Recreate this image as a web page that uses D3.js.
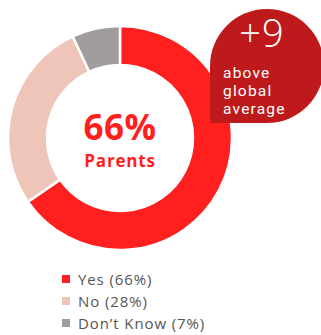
<!DOCTYPE html>
<html>
<head>
<meta charset="utf-8">
<script src="https://cdn.jsdelivr.net/npm/d3@7"></script>
<style>
  html, body { margin: 0; padding: 0; background: #fff; }
  svg { display: block; }
  text { font-family: "Open Sans", "Noto Sans", sans-serif; }
  text.note { font-family: Roboto, "Open Sans", sans-serif; }
</style>
</head>
<body>
<svg id="chart" width="321" height="335"></svg>
<script>
// Survey answers for parents
const categories = ["Yes", "No", "Don’t Know"];
const values = [66, 28, 7];
const colors = ["#ff1f1f", "#efc5b9", "#a19d9c"];
const headline = "66%";
const subject = "Parents";
const deltaLabel = "+9";
const deltaNote = ["above", "global", "average"];

const svg = d3.select("#chart");
const cx = 120, cy = 138;
const outerR = 112, innerR = 73;

const pie = d3.pie().sort(null).value(d => d);
const arc = d3.arc().innerRadius(innerR).outerRadius(outerR);

const g = svg.append("g").attr("transform", `translate(${cx},${cy})`);
g.selectAll("path.slice")
  .data(pie(values))
  .join("path")
  .attr("class", "slice")
  .attr("d", arc)
  .attr("fill", (d, i) => colors[i])
  .attr("stroke", "#fff")
  .attr("stroke-width", 2.5);

g.append("text")
  .attr("text-anchor", "middle")
  .attr("y", 2)
  .attr("fill", "#ff1f1f")
  .attr("font-size", 35)
  .attr("font-weight", 700)
  .attr("letter-spacing", 0.5)
  .text(headline);

g.append("text")
  .attr("text-anchor", "middle")
  .attr("y", 29)
  .attr("fill", "#ff1f1f")
  .attr("font-size", 17)
  .attr("font-weight", 700)
  .attr("letter-spacing", 0.8)
  .text(subject);

// Callout badge: a circle with a squared bottom-left corner
const bx = 267, by = 66, br = 57;
const badge = d3.path();
badge.moveTo(bx - br, by);
badge.arc(bx, by, br, Math.PI, 2.5 * Math.PI, false);
badge.lineTo(bx - br, by + br);
badge.closePath();
svg.append("path").attr("d", badge.toString()).attr("fill", "#bf1a1b");

svg.append("text")
  .attr("x", 262).attr("y", 47)
  .attr("text-anchor", "middle")
  .attr("fill", "#fff")
  .attr("font-size", 38)
  .attr("font-weight", 300)
  .attr("letter-spacing", 1)
  .text(deltaLabel);

// Three-line note set as one text block
svg.append("text")
  .attr("class", "note")
  .attr("x", 223)
  .attr("y", 77.5)
  .attr("fill", "#fff")
  .attr("font-size", 15.5)
  .attr("font-weight", 400)
  .attr("letter-spacing", 1.2)
  .selectAll("tspan")
  .data(deltaNote)
  .join("tspan")
  .attr("x", 223)
  .attr("dy", (d, i) => i === 0 ? 0 : 18.3)
  .text(d => d);

// Legend
const legend = svg.append("g").attr("transform", "translate(62,279)");
const rows = legend.selectAll("g")
  .data(categories)
  .join("g")
  .attr("transform", (d, i) => `translate(0,${i * 22})`);
rows.append("rect")
  .attr("x", 0).attr("y", -4)
  .attr("width", 8).attr("height", 8)
  .attr("fill", (d, i) => colors[i]);
rows.append("text")
  .attr("x", 16).attr("y", 5.5)
  .attr("fill", "#555")
  .attr("font-size", 15)
  .attr("letter-spacing", 0.9)
  .text((d, i) => `${d} (${values[i]}%)`);
</script>
</body>
</html>
